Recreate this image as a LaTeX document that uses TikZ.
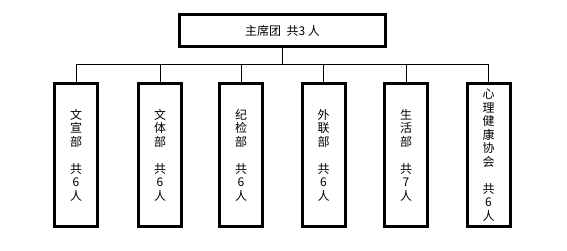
\documentclass[tikz,border=0pt]{standalone}
\usepackage{fontspec}
\setmainfont{Noto Sans CJK SC}
\begin{document}
\begin{tikzpicture}[x=1pt,y=-1pt,
  topbox/.style={draw, line width=3pt, minimum width=206pt, minimum height=32pt, inner sep=0pt, font=\fontsize{12}{14}\selectfont},
  deptbox/.style={draw, line width=3pt, minimum width=43pt, minimum height=143pt, inner sep=0pt, align=center, font=\fontsize{12}{13.5}\selectfont},
  conn/.style={line width=1pt}]
\useasboundingbox (0,0) rectangle (567,251);
\node[topbox] (top) at (282.5,30.5) {主席团\ \ 共3 人};
\coordinate (bus) at (282.5,65);
\node[deptbox] (d1) at (76,155) {文\\宣\\部\\[13.5pt]共\\6\\人};
\node[deptbox] (d2) at (160,155) {文\\体\\部\\[13.5pt]共\\6\\人};
\node[deptbox] (d3) at (241,155) {纪\\检\\部\\[13.5pt]共\\6\\人};
\node[deptbox] (d4) at (323.5,155) {外\\联\\部\\[13.5pt]共\\6\\人};
\node[deptbox] (d5) at (406,155) {生\\活\\部\\[13.5pt]共\\7\\人};
\node[deptbox] (d6) at (488.5,155) {心\\理\\健\\康\\协\\会\\[13.5pt]共\\6\\人};
\draw[conn] (top.south) -- (bus);
\foreach \i in {1,...,6} \draw[conn] (d\i.north) |- (bus);
\end{tikzpicture}
\end{document}
